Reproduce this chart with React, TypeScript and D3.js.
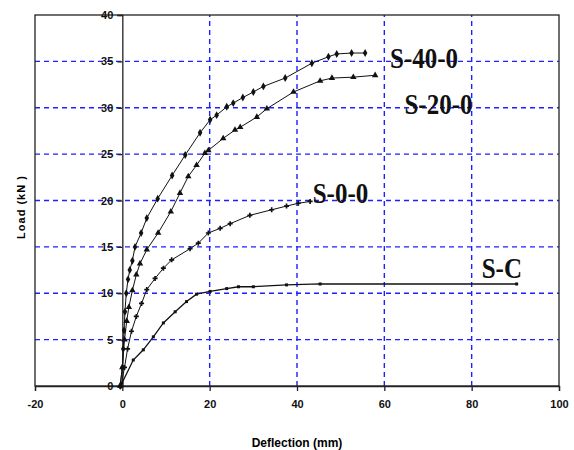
import React, { useRef, useEffect } from "react";
import * as d3 from "d3";

// deflection (mm), load (kN)
const s40x = [-0.5, 0, 0.2, 0.4, 0.6, 0.9, 1.3, 1.7, 2.3, 2.9, 4.3, 5.6, 8.1, 11.4, 14.4, 17.8, 20.1, 21.6, 23.9, 25.4, 27.6, 30, 32.3, 37.3, 43.4, 47.2, 49.1, 52.5, 55.6];
const s40y = [0, 2, 4, 6, 8, 10, 11.5, 12.5, 13.5, 15, 16.5, 18.1, 20.2, 22.7, 24.9, 27.3, 28.7, 29.2, 30.1, 30.5, 31.1, 31.7, 32.3, 33.2, 34.8, 35.5, 35.8, 35.9, 35.9];

const s20x = [-0.5, 0, 0.5, 1, 1.5, 2.3, 3.2, 4.05, 5.6, 8.2, 11.1, 13.2, 15.1, 17, 18.9, 19.7, 23.1, 25.8, 27, 30.8, 33.1, 39.2, 45.3, 48, 52.9, 57.9];
const s20y = [0, 2, 5, 7, 8.5, 10.3, 12, 13.2, 14.7, 16.5, 18.8, 20.8, 22.6, 23.8, 25.1, 25.4, 26.7, 27.6, 27.9, 29, 29.9, 31.7, 32.9, 33.2, 33.3, 33.5];

const s0x = [-0.3, 0.5, 1.2, 2.1, 3.2, 4.4, 5.6, 7.5, 9.4, 11.3, 15.5, 17.4, 19.7, 22.4, 24.7, 29.2, 34.2, 37.6, 40.3, 43];
const s0y = [0, 2, 4, 5.9, 7.5, 8.9, 10.4, 11.6, 12.7, 13.6, 14.8, 15.4, 16.5, 17, 17.5, 18.4, 19, 19.4, 19.7, 19.9];

const scx = [-0.1, 2.5, 4.8, 7.1, 9.4, 12.1, 14.7, 17, 20.1, 23.9, 26.6, 30, 37.6, 45.3, 90.3];
const scy = [0.3, 2.8, 3.9, 5.3, 6.8, 8, 9.1, 9.9, 10.2, 10.5, 10.7, 10.7, 10.9, 11, 11];

const series = [
  { name: "S-40-0", xs: s40x, ys: s40y, marker: "diamond" },
  { name: "S-20-0", xs: s20x, ys: s20y, marker: "triangle" },
  { name: "S-0-0", xs: s0x, ys: s0y, marker: "cross" },
  { name: "S-C", xs: scx, ys: scy, marker: "square" },
];

const xTicks = [-20, 0, 20, 40, 60, 80, 100];
const yTicks = [0, 5, 10, 15, 20, 25, 30, 35, 40];
const xGrid = [20, 40, 60, 80];
const yGrid = [5, 10, 15, 20, 25, 30, 35];

// label positions (data coords) for each series name
const labelX = [61.3, 64.6, 43.6, 82.3];
const labelY = [34.3, 29.3, 19.7, 11.6];

const App = () => {
  const svgRef = useRef<SVGSVGElement>(null);

  useEffect(() => {
    const svg = d3.select(svgRef.current);
    svg.selectAll("*").remove();

    const x = d3.scaleLinear().domain([-20, 100]).range([35, 559]);
    const y = d3.scaleLinear().domain([0, 40]).range([386, 15]);
    const tickFont = "'Liberation Sans Narrow', 'Arial Narrow', 'Liberation Sans', Arial, sans-serif";

    // grid
    svg.append("g")
      .selectAll("line")
      .data(yGrid)
      .enter()
      .append("line")
      .attr("x1", x(-20))
      .attr("x2", x(100))
      .attr("y1", (d) => y(d))
      .attr("y2", (d) => y(d))
      .attr("stroke", "#1f1fff")
      .attr("stroke-width", 1.4)
      .attr("stroke-dasharray", "5,4");
    svg.append("g")
      .selectAll("line")
      .data(xGrid)
      .enter()
      .append("line")
      .attr("y1", y(0))
      .attr("y2", y(40))
      .attr("x1", (d) => x(d))
      .attr("x2", (d) => x(d))
      .attr("stroke", "#1f1fff")
      .attr("stroke-width", 1.4)
      .attr("stroke-dasharray", "5,4");

    // frame
    svg.append("rect")
      .attr("x", x(-20))
      .attr("y", y(40))
      .attr("width", x(100) - x(-20))
      .attr("height", y(0) - y(40))
      .attr("fill", "none")
      .attr("stroke", "#222")
      .attr("stroke-width", 1.3);

    // x axis
    const xa = svg.append("g")
      .attr("transform", `translate(0,${y(0)})`)
      .call(d3.axisBottom(x).tickValues(xTicks).tickSize(5).tickPadding(9).tickFormat((d) => String(d)));
    xa.select(".domain").attr("stroke", "#222").attr("stroke-width", 1.3);
    xa.selectAll("line").attr("stroke", "#222").attr("stroke-width", 1.3);
    xa.selectAll("text")
      .attr("font-family", tickFont)
      .attr("font-weight", "bold")
      .attr("font-size", 11)
      .attr("fill", "#111");

    // y axis sits at x = 0
    const ya = svg.append("g")
      .attr("transform", `translate(${x(0)},0)`)
      .call(d3.axisLeft(y).tickValues(yTicks).tickSize(5).tickPadding(4).tickFormat((d) => String(d)));
    ya.select(".domain").attr("stroke", "#222").attr("stroke-width", 1.3);
    ya.selectAll("line").attr("stroke", "#222").attr("stroke-width", 1.3);
    ya.selectAll("text")
      .attr("font-family", tickFont)
      .attr("font-weight", "bold")
      .attr("font-size", 11)
      .attr("fill", "#111");

    // axis titles
    svg.append("text")
      .attr("x", 297)
      .attr("y", 447)
      .attr("text-anchor", "middle")
      .attr("font-family", tickFont)
      .attr("font-weight", "bold")
      .attr("font-size", 12)
      .text("Deflection (mm)");
    svg.append("text")
      .attr("transform", "translate(25,207) rotate(-90)")
      .attr("text-anchor", "middle")
      .attr("font-family", tickFont)
      .attr("font-weight", "bold")
      .attr("font-size", 11)
      .attr("letter-spacing", 1)
      .text("Load (kN )");

    series.forEach((s, si) => {
      const pts = s.xs.map((v, i) => [v, s.ys[i]] as [number, number]);
      const ln = d3.line<[number, number]>()
        .x((d) => x(d[0]))
        .y((d) => y(d[1]));
      svg.append("path")
        .datum(pts)
        .attr("d", ln)
        .attr("fill", "none")
        .attr("stroke", "#111")
        .attr("stroke-width", si === 3 ? 1.3 : 1);

      const sym =
        s.marker === "diamond" ? d3.symbolDiamond :
        s.marker === "triangle" ? d3.symbolTriangle :
        s.marker === "cross" ? d3.symbolCross : d3.symbolSquare;
      const size = s.marker === "square" ? 9 : s.marker === "cross" ? 14 : 18;
      svg.append("g")
        .selectAll("path")
        .data(pts)
        .enter()
        .append("path")
        .attr("transform", (d) => `translate(${x(d[0])},${y(d[1])})`)
        .attr("d", d3.symbol().type(sym).size(size))
        .attr("fill", "#111");

      svg.append("text")
        .attr("transform", `translate(${x(labelX[si])},${y(labelY[si])}) scale(1,1.15)`)
        .attr("font-family", "'Liberation Serif', 'Times New Roman', serif")
        .attr("font-weight", "bold")
        .attr("font-size", 25)
        .attr("fill", "#111")
        .text(s.name);
    });
  }, []);

  return (
    <svg
      ref={svgRef}
      width={574}
      height={450}
      style={{ position: "absolute", left: 0, top: 0, background: "#fff" }}
    ></svg>
  );
};

export default App;
